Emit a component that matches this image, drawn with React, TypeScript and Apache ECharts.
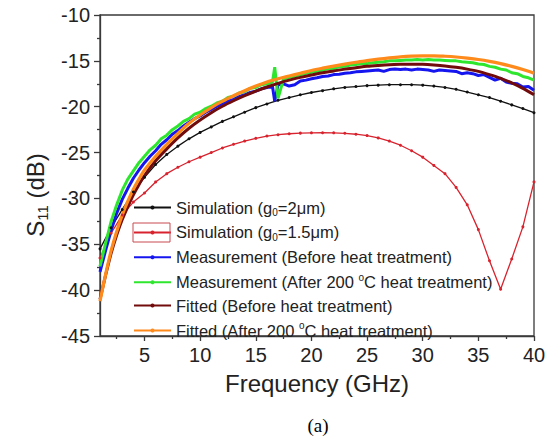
import React, { useEffect, useRef } from 'react';
import * as echarts from 'echarts';

// ---------- data ----------
const simFreq = [1,2,3,4,5,6,7,8,9,10,11,12,13,14,15,16,17,18,19,20,21,22,23,24,25,26,27,28,29,30,31,32,33,34,35,36,37,38,39,40];
const sim2um = [-35.5,-33.2,-31.2,-29.3,-27.7,-26.3,-25.2,-24.3,-23.5,-22.8,-22.2,-21.6,-21.1,-20.6,-20.1,-19.7,-19.3,-19.0,-18.7,-18.45,-18.25,-18.05,-17.9,-17.8,-17.7,-17.65,-17.6,-17.6,-17.6,-17.65,-17.75,-17.9,-18.1,-18.4,-18.7,-19.0,-19.4,-19.8,-20.2,-20.65];
const sim15um = [-36.5,-33.8,-31.8,-30.4,-29.4,-28.2,-27.3,-26.6,-26.0,-25.5,-25.0,-24.5,-24.1,-23.75,-23.45,-23.2,-23.05,-22.95,-22.88,-22.85,-22.84,-22.85,-22.9,-23.0,-23.15,-23.4,-23.75,-24.2,-24.8,-25.5,-26.4,-27.3,-28.8,-30.7,-33.4,-36.8,-39.9,-36.6,-33.1,-28.2];

const measFreq = [1,1.5,2,2.5,3,3.5,4,4.5,5,5.5,6,6.5,7,7.5,8,8.5,9,9.5,10,10.5,11,11.5,12,12.5,13,13.5,14,14.5,15,15.5,16,16.5,16.7,17,17.5,18,18.5,19,19.5,20,20.5,21,21.5,22,22.5,23,23.5,24,24.5,25,25.5,26,26.5,27,27.5,28,28.5,29,29.5,30,30.5,31,31.5,32,32.5,33,33.5,34,34.5,35,35.5,36,36.5,37,37.5,38,38.5,39,39.5,40];
const measBefore = [-38.0,-35.7,-33.5,-31.6,-30.1,-28.9,-27.8,-26.9,-26.1,-25.4,-24.8,-24.1,-23.6,-23.0,-22.6,-22.1,-21.7,-21.3,-21.0,-20.6,-20.3,-19.95,-19.7,-19.4,-19.2,-18.9,-18.7,-18.45,-18.3,-18.05,-17.9,-17.8,-19.4,-17.6,-17.5,-17.75,-17.6,-17.2,-17.1,-16.95,-16.85,-16.7,-16.65,-16.5,-16.45,-16.35,-16.3,-16.2,-16.15,-16.1,-16.05,-16.0,-16.15,-15.95,-15.9,-15.95,-15.9,-16.0,-15.9,-15.95,-16.0,-16.15,-16.0,-16.05,-16.1,-16.15,-16.4,-16.3,-16.4,-16.6,-16.5,-16.8,-17.1,-16.9,-17.3,-17.45,-17.5,-17.85,-17.8,-18.2];
const measAfter = [-37.4,-34.9,-32.5,-30.7,-29.1,-27.9,-27.0,-26.1,-25.4,-24.7,-24.2,-23.5,-23.1,-22.5,-22.1,-21.6,-21.3,-20.8,-20.6,-20.2,-19.95,-19.6,-19.4,-19.0,-18.85,-18.5,-18.35,-18.0,-17.9,-17.6,-17.5,-17.3,-15.7,-19.1,-16.95,-16.8,-16.65,-16.5,-16.35,-16.25,-16.1,-16.0,-15.85,-15.8,-15.65,-15.6,-15.45,-15.4,-15.3,-15.3,-15.2,-15.15,-15.1,-15.0,-15.0,-14.95,-14.9,-14.9,-14.85,-14.9,-14.85,-14.9,-14.9,-14.95,-15.0,-15.0,-15.1,-15.15,-15.2,-15.35,-15.4,-15.6,-15.7,-15.9,-16.0,-16.3,-16.4,-16.7,-16.85,-17.1];

const fitFreq = [1,1.5,2,2.5,3,3.5,4,4.5,5,6,7,8,9,10,11,12,13,14,15,16,17,18,19,20,21,22,23,24,25,26,27,28,29,30,31,32,33,34,35,36,37,38,39,40];
const fitBefore = [-41.0,-38.4,-36.0,-34.0,-32.3,-30.9,-29.6,-28.5,-27.5,-25.9,-24.6,-23.4,-22.35,-21.45,-20.65,-19.95,-19.35,-18.8,-18.3,-17.85,-17.45,-17.1,-16.8,-16.55,-16.3,-16.1,-15.9,-15.75,-15.6,-15.5,-15.42,-15.38,-15.36,-15.38,-15.45,-15.55,-15.7,-15.9,-16.15,-16.5,-16.9,-17.4,-18.0,-18.7];
const fitAfter = [-41.2,-38.3,-35.7,-33.6,-31.8,-30.3,-29.0,-27.9,-26.9,-25.4,-24.1,-22.9,-21.8,-20.9,-20.1,-19.4,-18.8,-18.25,-17.75,-17.3,-16.95,-16.65,-16.35,-16.05,-15.8,-15.57,-15.35,-15.15,-14.98,-14.82,-14.68,-14.56,-14.48,-14.45,-14.45,-14.5,-14.58,-14.7,-14.85,-15.05,-15.3,-15.6,-15.95,-16.35];

const xMajorTicks = [5,10,15,20,25,30,35,40];
const xMinorTicks = [2.5,7.5,12.5,17.5,22.5,27.5,32.5,37.5];

const seriesNames = [
  'Simulation (g0=2μm)',
  'Simulation (g0=1.5μm)',
  'Measurement (Before heat treatment)',
  'Measurement (After 200 oC heat treatment)',
  'Fitted (Before heat treatment)',
  'Fitted (After 200 oC heat treatment)',
];
const legendRich: Record<string, string> = {
  'Simulation (g0=2μm)': '{t|Simulation (g}{sub|0}{t|=2μm)}',
  'Simulation (g0=1.5μm)': '{t|Simulation (g}{sub|0}{t|=1.5μm)}',
  'Measurement (Before heat treatment)': '{t|Measurement (Before heat treatment)}',
  'Measurement (After 200 oC heat treatment)': '{t|Measurement (After 200 }{sup|o}{t|C heat treatment)}',
  'Fitted (Before heat treatment)': '{t|Fitted (Before heat treatment)}',
  'Fitted (After 200 oC heat treatment)': '{t|Fitted (After 200 }{sup|o}{t|C heat treatment)}',
};
const seriesColors = ['#111111', '#d8232e', '#1515f0', '#2ee62e', '#720b0b', '#ff8a1c'];

const FONT = 'Liberation Sans, Arial, sans-serif';
const AXIS_COLOR = '#3a3a3a';

const zip = (xs: number[], ys: number[]) => xs.map((x, i) => [x, ys[i]]);

export default function App() {
  const ref = useRef<HTMLDivElement>(null);
  useEffect(() => {
    const chart = echarts.init(ref.current!, null, { renderer: 'svg' });
    const lineStyleAxis = { color: AXIS_COLOR, width: 1.3 };
    const option: any = {
      animation: false,
      backgroundColor: '#ffffff',
      grid: {
        left: 100, top: 15, right: 20, bottom: 105,
        show: true, borderColor: AXIS_COLOR, borderWidth: 1.3,
        containLabel: false, outerBoundsMode: 'none',
      },
      xAxis: [
        {
          type: 'value', min: 1, max: 40, position: 'bottom',
          axisLine: { show: true, lineStyle: lineStyleAxis },
          axisTick: { show: true, inside: false, length: 5, lineStyle: lineStyleAxis, customValues: xMajorTicks },
          axisLabel: { customValues: xMajorTicks, fontSize: 20, fontFamily: FONT, color: '#222', margin: 9 },
          splitLine: { show: false },
          name: 'Frequency (GHz)', nameLocation: 'middle', nameGap: 35,
          nameTextStyle: { fontSize: 24, fontFamily: FONT, color: '#222' },
        },
        {
          type: 'value', min: 1, max: 40, position: 'top', offset: -321,
          axisLine: { show: false },
          axisTick: { show: true, inside: true, length: 3, lineStyle: lineStyleAxis, customValues: xMinorTicks },
          axisLabel: { show: false },
          splitLine: { show: false },
        },
      ],
      yAxis: {
        type: 'value', min: -45, max: -10, interval: 5,
        axisLine: { show: true, lineStyle: lineStyleAxis },
        axisTick: { show: true, inside: false, length: 6, lineStyle: lineStyleAxis },
        minorTick: { show: true, splitNumber: 2, length: 3, lineStyle: lineStyleAxis },
        splitLine: { show: false },
        axisLabel: { fontSize: 20, fontFamily: FONT, color: '#222', margin: 10 },
      },
      legend: {
        orient: 'vertical', left: 133, top: 199, padding: 0,
        itemWidth: 37, itemHeight: 5, itemGap: 6.4,
        data: seriesNames,
        formatter: (name: string) => legendRich[name] || name,
        textStyle: {
          fontFamily: FONT, fontSize: 16.5, color: '#222',
          rich: {
            t: { fontFamily: FONT, fontSize: 16.5, color: '#222', lineHeight: 20 },
            sub: { fontFamily: FONT, fontSize: 10, color: '#222', lineHeight: 10, verticalAlign: 'bottom' },
            sup: { fontFamily: FONT, fontSize: 10, color: '#222', lineHeight: 10, verticalAlign: 'top' },
          },
        },
      },
      graphic: [
        {
          type: 'rect', shape: { x: 133, y: 223, width: 37, height: 19 },
          style: { fill: 'none', stroke: '#c94a50', lineWidth: 1 }, z: 100,
        },
        {
          type: 'text', x: 35, y: 195, rotation: Math.PI / 2,
          style: {
            text: '{s|S}{sub|11}{s| (dB)}', align: 'center', verticalAlign: 'middle', fill: '#222',
            rich: {
              s: { fontFamily: FONT, fontSize: 24, fill: '#222', lineHeight: 30 },
              sub: { fontFamily: FONT, fontSize: 15, fill: '#222', lineHeight: 15, verticalAlign: 'bottom' },
            },
          },
        },
        {
          type: 'text', x: 318, y: 425,
          style: { text: '(a)', fontFamily: 'Liberation Serif, Times New Roman, serif', fontSize: 19, fill: '#000', align: 'center', verticalAlign: 'middle' },
        },
      ],
      series: [
        {
          name: seriesNames[0], type: 'line', data: zip(simFreq, sim2um),
          color: seriesColors[0], lineStyle: { width: 1.3, color: seriesColors[0] },
          symbol: 'circle', symbolSize: 3, showSymbol: true, itemStyle: { color: seriesColors[0] },
        },
        {
          name: seriesNames[1], type: 'line', data: zip(simFreq, sim15um),
          color: seriesColors[1], lineStyle: { width: 1.3, color: seriesColors[1] },
          symbol: 'circle', symbolSize: 3, showSymbol: true, itemStyle: { color: seriesColors[1] },
        },
        {
          name: seriesNames[2], type: 'line', data: zip(measFreq, measBefore),
          color: seriesColors[2], lineStyle: { width: 3, color: seriesColors[2] },
          symbol: 'circle', symbolSize: 3, showSymbol: false, itemStyle: { color: seriesColors[2] },
        },
        {
          name: seriesNames[3], type: 'line', data: zip(measFreq, measAfter),
          color: seriesColors[3], lineStyle: { width: 3, color: seriesColors[3] },
          symbol: 'circle', symbolSize: 3, showSymbol: false, itemStyle: { color: seriesColors[3] },
        },
        {
          name: seriesNames[4], type: 'line', data: zip(fitFreq, fitBefore), smooth: 0.3,
          color: seriesColors[4], lineStyle: { width: 3, color: seriesColors[4] },
          symbol: 'circle', symbolSize: 3, showSymbol: false, itemStyle: { color: seriesColors[4] },
        },
        {
          name: seriesNames[5], type: 'line', data: zip(fitFreq, fitAfter), smooth: 0.3,
          color: seriesColors[5], lineStyle: { width: 3.2, color: seriesColors[5] },
          symbol: 'circle', symbolSize: 3, showSymbol: false, itemStyle: { color: seriesColors[5] },
        },
      ],
    };
    chart.setOption(option);
    return () => chart.dispose();
  }, []);
  return <div ref={ref} style={{ position: 'fixed', left: 0, top: 0, width: 554, height: 441 }} />;
}
